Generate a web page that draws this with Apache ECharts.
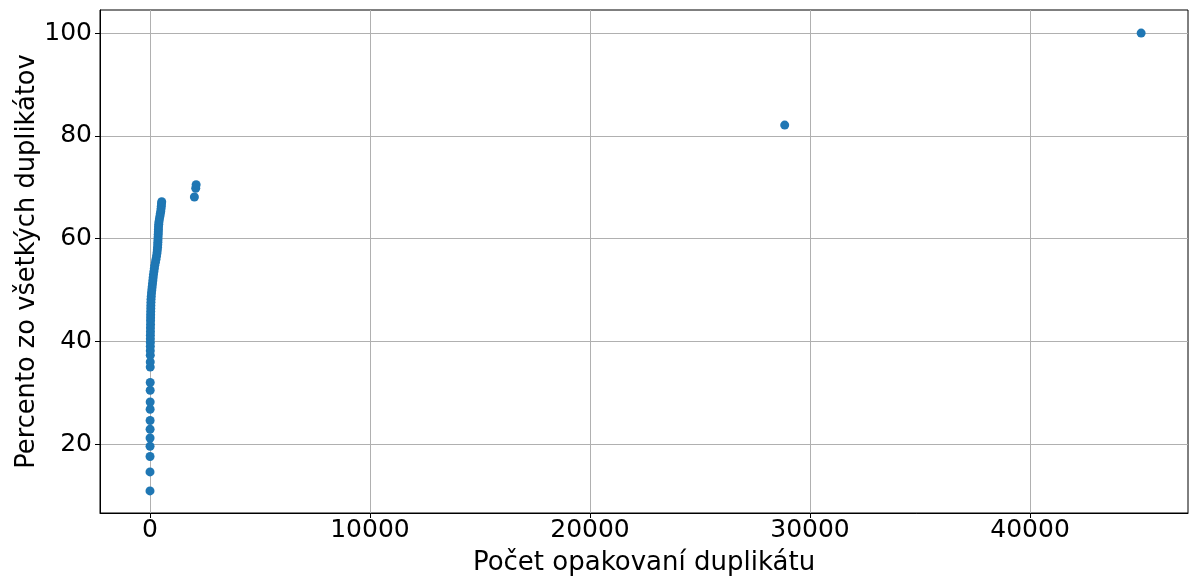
<!DOCTYPE html>
<html>
<head>
<meta charset="utf-8">
<script src="https://cdn.jsdelivr.net/npm/echarts@6/dist/echarts.min.js"></script>
<style>
  html, body { margin: 0; padding: 0; background: #fff; }
  #chart { width: 1189px; height: 577px; }
</style>
</head>
<body>
<div id="chart"></div>
<script>
// Repetition count of each duplicate (x) and cumulative share of all duplicates in % (y)
const repeatCounts = [
  2, 3, 4, 5, 6, 7, 8, 9, 10, 11, 12, 13, 14, 15,
  16, 17, 18, 19, 20, 22, 24, 26, 28, 30, 32, 35, 38, 41, 45, 50,
  60, 70, 85, 100, 115, 130, 145, 160, 180, 200, 220, 250, 275, 300,
  320, 335, 345, 355, 360, 365, 370, 375, 380, 385, 390, 400, 410,
  430, 450, 470, 490, 505, 515, 525, 535,
  2020, 2080, 2100,
  28850, 45050
];
const cumulativePercent = [
  10.9, 14.6, 17.6, 19.6, 21.2, 22.9, 24.6, 26.8, 28.2, 30.5, 32.0, 35.0, 36.0, 37.3,
  38.2, 39.0, 39.8, 40.5, 41.2, 41.9, 42.6, 43.3, 44.0, 44.6, 45.2, 45.8, 46.4, 47.0, 47.6, 48.2,
  48.8, 49.4, 50.0, 50.6, 51.2, 51.8, 52.4, 53.0, 53.6, 54.2, 54.8, 55.4, 56.0, 56.6,
  57.2, 57.8, 58.3, 58.8, 59.3, 59.8, 60.3, 60.8, 61.3, 61.8, 62.3, 62.8, 63.3,
  63.8, 64.3, 64.8, 65.3, 65.8, 66.3, 66.8, 67.2,
  68.1, 69.8, 70.5,
  82.1, 100.0
];
const xTickValues = [0, 10000, 20000, 30000, 40000];
const yTickValues = [20, 40, 60, 80, 100];

const points = repeatCounts.map((c, i) => [c, cumulativePercent[i]]);

const font = 'DejaVu Sans';
const plain = v => String(v);
const chart = echarts.init(document.getElementById('chart'), null, { renderer: 'canvas' });
chart.setOption({
  animation: false,
  backgroundColor: '#ffffff',
  grid: {
    left: 100, right: 1, top: 10, bottom: 64,
    outerBoundsMode: 'none',
    containLabel: false,
    show: true, borderColor: '#000000', borderWidth: 1, backgroundColor: 'transparent'
  },
  xAxis: {
    type: 'value',
    min: -2270, max: 47180,
    name: 'Počet opakovaní duplikátu',
    nameLocation: 'middle',
    nameGap: 37,
    nameMoveOverlap: false,
    nameTextStyle: { fontFamily: font, fontSize: 26, color: '#000' },
    axisLine: { show: true, onZero: false, lineStyle: { color: '#000' } },
    axisTick: { show: true, length: 5, customValues: xTickValues, lineStyle: { color: '#000' } },
    axisLabel: { customValues: xTickValues, formatter: plain, fontFamily: font, fontSize: 25, color: '#000', margin: 5 },
    splitLine: { show: true, customValues: xTickValues, lineStyle: { color: '#b0b0b0', width: 1 } }
  },
  yAxis: {
    type: 'value',
    min: 6.6, max: 104.5,
    name: 'Percento zo všetkých duplikátov',
    nameLocation: 'middle',
    nameGap: 60,
    nameMoveOverlap: false,
    nameTextStyle: { fontFamily: font, fontSize: 25.7, color: '#000' },
    axisLine: { show: true, onZero: false, lineStyle: { color: '#000' } },
    axisTick: { show: true, length: 5, customValues: yTickValues, lineStyle: { color: '#000' } },
    axisLabel: { customValues: yTickValues, formatter: plain, fontFamily: font, fontSize: 25, color: '#000', margin: 8 },
    splitLine: { show: true, customValues: yTickValues, lineStyle: { color: '#b0b0b0', width: 1 } }
  },
  series: [{
    type: 'scatter',
    data: points,
    symbolSize: 9,
    itemStyle: { color: '#1f77b4', opacity: 1 }
  }]
});
</script>
</body>
</html>
